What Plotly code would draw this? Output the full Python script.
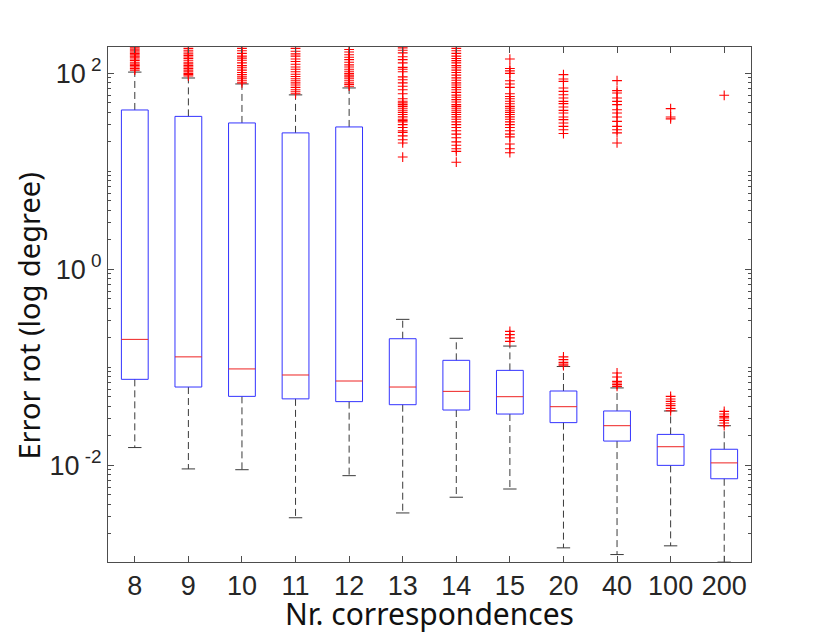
import plotly.graph_objects as go

categories = ["8", "9", "10", "11", "12", "13", "14", "15", "20", "40", "100", "200"]

q1 = [0.0755, 0.063, 0.0506, 0.0477, 0.0447, 0.0416, 0.0367, 0.0334, 0.0273, 0.0177, 0.0100, 0.0073]
median = [0.193, 0.128, 0.0964, 0.0836, 0.0726, 0.063, 0.0569, 0.0502, 0.0397, 0.0254, 0.0155, 0.0106]
q3 = [42.3, 36.4, 31.2, 24.7, 28.4, 0.196, 0.118, 0.0932, 0.0574, 0.0359, 0.0207, 0.0146]
lower_whisker = [0.0152, 0.0092, 0.00903, 0.00292, 0.00785, 0.00327, 0.00473, 0.00574, 0.00144, 0.00123, 0.00151, 0.00103]
upper_whisker = [103, 89.7, 78, 60.3, 71, 0.309, 0.198, 0.165, 0.102, 0.0617, 0.0359, 0.0254]

outliers = {
    "8": [182, 176, 170, 165, 160, 155, 150, 146, 140, 135, 128, 124, 120, 116, 112, 108],
    "9": [180, 172, 165, 158, 152, 147, 142, 136, 130, 125, 120, 116, 112, 108, 104, 100, 97, 94],
    "10": [180, 170, 160, 150, 143, 136, 128, 120, 114, 108, 102, 97, 92, 88, 84, 80],
    "11": [180, 168, 158, 150, 140, 132, 124, 116, 110, 104, 98, 93, 88, 84, 80, 76, 72, 68, 65, 62],
    "12": [175, 165, 155, 146, 138, 130, 122, 116, 110, 105, 100, 96, 92, 88, 84, 80, 77, 74],
    "13": [182, 172, 162, 148, 138, 128, 115, 110, 104, 92, 86, 80, 74, 68, 62, 55, 52, 50, 48, 46,
           44, 42, 40, 38, 36, 34, 33, 32, 30, 28, 26, 25, 23, 21, 19.5, 14],
    "14": [180, 170, 160, 150, 142, 135, 128, 120, 114, 108, 102, 96, 90, 85, 80, 76, 72, 68, 64, 60,
           57, 54, 51, 48, 46, 44, 42, 40, 38, 36, 34, 32, 30, 28, 26, 24, 22, 20, 18.5, 17, 16, 12.4],
    "15": [140, 112, 106, 100, 84, 78, 72, 62, 58, 55, 52, 49, 46, 44, 42, 40, 38, 36, 34, 32, 30,
           28, 26, 24, 22.5, 19, 17, 15.5, 0.233, 0.216, 0.2, 0.184],
    "20": [97, 87.7, 82.9, 71, 65.5, 60.6, 56.1, 51.8, 49.1, 45.4, 41.9, 39.4, 35.9, 33.7, 31.2, 28.8,
           26.6, 24.3, 0.128, 0.12, 0.1125, 0.108, 0.104],
    "40": [84.3, 66.6, 63, 56.1, 51.8, 48, 42.6, 39.4, 35.9, 32.4, 28.8, 26.6, 24.7, 19.5,
           0.0877, 0.0798, 0.072, 0.0693, 0.0666, 0.064],
    "100": [43.7, 35.9, 34.3, 0.0506, 0.0476, 0.045, 0.0426, 0.0407, 0.0382, 0.0361],
    "200": [59.7, 0.0356, 0.0334, 0.0316, 0.0305, 0.0288, 0.0271, 0.0254],
}

y_tick_vals = [0.01, 1, 100]
y_tick_text = ["10<sup> -2</sup>", "10<sup> 0</sup>", "10<sup> 2</sup>"]

BOX_HALF = 0.25
CAP_HALF = 0.125

pos = list(range(1, len(categories) + 1))

bx, by, mx, my, wx, wy, cx, cy = [], [], [], [], [], [], [], []
for i, p in enumerate(pos):
    l, r = p - BOX_HALF, p + BOX_HALF
    bx += [l, r, r, l, l, None]
    by += [q1[i], q1[i], q3[i], q3[i], q1[i], None]
    mx += [l, r, None]
    my += [median[i], median[i], None]
    wx += [p, p, None, p, p, None]
    wy += [q3[i], upper_whisker[i], None, q1[i], lower_whisker[i], None]
    cx += [p - CAP_HALF, p + CAP_HALF, None, p - CAP_HALF, p + CAP_HALF, None]
    cy += [upper_whisker[i], upper_whisker[i], None, lower_whisker[i], lower_whisker[i], None]

ox, oy = [], []
for p, c in zip(pos, categories):
    for v in outliers[c]:
        ox.append(p)
        oy.append(v)

fig = go.Figure()
fig.add_trace(go.Scatter(x=wx, y=wy, mode="lines",
                         line=dict(color="#3a3a3a", width=1, dash="7px,4px"), hoverinfo="skip"))
fig.add_trace(go.Scatter(x=cx, y=cy, mode="lines",
                         line=dict(color="#3a3a3a", width=1), hoverinfo="skip"))
fig.add_trace(go.Scatter(x=bx, y=by, mode="lines",
                         line=dict(color="#3333ff", width=1), hoverinfo="skip"))
fig.add_trace(go.Scatter(x=mx, y=my, mode="lines",
                         line=dict(color="#ee2222", width=1), hoverinfo="skip"))
fig.add_trace(go.Scatter(x=ox, y=oy, mode="markers",
                         marker=dict(symbol="cross-thin", size=7, color="red",
                                     line=dict(color="red", width=1.1)),
                         hoverinfo="skip"))

minor_vals = []
for e in [-3, -2, -1, 0, 1, 2]:
    for k in range(1, 10):
        v = k * 10 ** e
        if v not in (0.01, 1, 100):
            minor_vals.append(v)

axis_color = "#4d4d4d"
tick_font = dict(size=27, family="Liberation Sans, Arial, sans-serif", color="#262626")
fig.update_layout(
    width=822, height=625,
    margin=dict(l=100, r=79, t=39, b=71),
    paper_bgcolor="white", plot_bgcolor="white",
    showlegend=False,
    font=dict(family="Liberation Sans, Arial, sans-serif", color="#262626"),
    xaxis=dict(
        range=[0.5, 12.5], tickmode="array", tickvals=pos, ticktext=categories,
        ticks="inside", ticklen=6, tickcolor=axis_color, showline=True, linecolor=axis_color,
        linewidth=1, mirror="ticks", showgrid=False, zeroline=False,
        tickfont=tick_font,
    ),
    yaxis=dict(
        type="log", range=[-2.986, 2.269], tickmode="array", tickvals=y_tick_vals,
        ticktext=y_tick_text, ticks="inside", ticklen=6, tickcolor=axis_color, showline=True,
        linecolor=axis_color, linewidth=1, mirror="ticks", showgrid=False, zeroline=False,
        tickfont=tick_font,
        minor=dict(tickmode="array", tickvals=minor_vals, ticks="inside", ticklen=3,
                   tickcolor=axis_color, showgrid=False),
    ),
    annotations=[
        dict(text="Nr. correspondences", xref="paper", yref="paper", x=0.5, y=-0.1,
             yanchor="middle", xanchor="center", showarrow=False,
             font=dict(family="Noto Sans, sans-serif", size=30, color="#111111")),
        dict(text="Error rot (log degree)", xref="paper", yref="paper", x=-0.124, y=0.477,
             xanchor="center", yanchor="middle", textangle=-90, showarrow=False,
             font=dict(family="Noto Sans, sans-serif", size=29, color="#111111")),
    ],
)

fig.write_html("out.html")
